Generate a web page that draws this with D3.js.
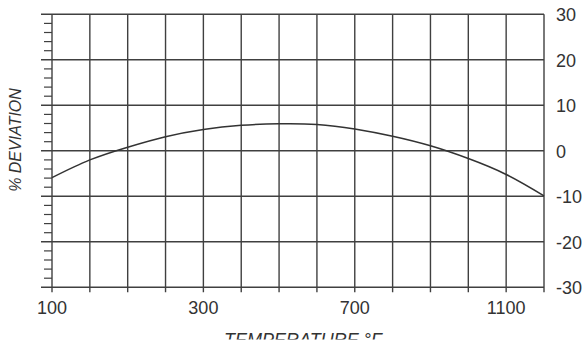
<!DOCTYPE html>
<html>
<head>
<meta charset="utf-8">
<script src="https://cdn.jsdelivr.net/npm/d3@7"></script>
<style>
  body { margin: 0; background: #fff; }
  svg { display: block; }
  text { font-family: Arial, "Liberation Sans", sans-serif; fill: #333; }
</style>
</head>
<body>
<div id="chart"></div>
<script>
// grid columns (deg F) - the axis is 50 deg/column below 300, 100 deg/column above
var gridTemps = [100, 150, 200, 250, 300, 400, 500, 600, 700, 800, 900, 1000, 1100, 1200];
var tempLabels = [100, 300, 700, 1100];
var devTicks = [-30, -20, -10, 0, 10, 20, 30];
var minorTicks = d3.range(-30, 30, 2).filter(function(v) { return v % 10 !== 0; });

// curve
var temps =     [100, 150, 200, 250, 300, 400, 500, 600, 700, 800, 900, 1000, 1100, 1200];
var deviation = [-5.9, -2.0, 0.8, 3.1, 4.7, 5.6, 5.95, 5.8, 4.8, 3.2, 1.1, -1.7, -5.2, -9.9];

var width = 588,
    height = 350,
    plotLeft = 52,
    plotRight = 544,
    plotTop = 14.3,
    plotBottom = 287.3,
    colW = (plotRight - plotLeft) / 13;

var svg = d3.select("#chart").append("svg")
    .attr("width", width)
    .attr("height", height);

var x = d3.scaleLinear()
    .domain([100, 300, 1200])
    .range([plotLeft, plotLeft + 4 * colW, plotRight]);

var y = d3.scaleLinear()
    .domain([-30, 30])
    .range([plotBottom, plotTop]);

var lineColor = "#404040";

// vertical grid + ticks below
svg.append("g").selectAll("line")
    .data(gridTemps)
    .enter().append("line")
    .attr("x1", function(d) { return x(d); })
    .attr("x2", function(d) { return x(d); })
    .attr("y1", plotTop)
    .attr("y2", plotBottom + 5)
    .attr("stroke", lineColor)
    .attr("stroke-width", 1.4);

// horizontal grid, sticking out on the left
svg.append("g").selectAll("line")
    .data(devTicks)
    .enter().append("line")
    .attr("x1", plotLeft - 11)
    .attr("x2", plotRight)
    .attr("y1", function(d) { return y(d); })
    .attr("y2", function(d) { return y(d); })
    .attr("stroke", lineColor)
    .attr("stroke-width", 1.4);

// minor ticks on the left edge
svg.append("g").selectAll("line")
    .data(minorTicks)
    .enter().append("line")
    .attr("x1", plotLeft - 8)
    .attr("x2", plotLeft)
    .attr("y1", function(d) { return y(d); })
    .attr("y2", function(d) { return y(d); })
    .attr("stroke", lineColor)
    .attr("stroke-width", 1.2);

// curve
var line = d3.line()
    .x(function(d, i) { return x(temps[i]); })
    .y(function(d) { return y(d); })
    .curve(d3.curveNatural);

svg.append("path")
    .datum(deviation)
    .attr("d", line)
    .attr("fill", "none")
    .attr("stroke", "#333")
    .attr("stroke-width", 1.5);

// right labels
svg.append("g").selectAll("text")
    .data(devTicks)
    .enter().append("text")
    .attr("x", plotRight + 12)
    .attr("y", function(d) { return y(d) + 7; })
    .style("font-size", "18px")
    .text(function(d) { return d; });

// bottom labels
svg.append("g").selectAll("text")
    .data(tempLabels)
    .enter().append("text")
    .attr("x", function(d) { return x(d); })
    .attr("y", 314)
    .attr("text-anchor", "middle")
    .style("font-size", "18px")
    .text(function(d) { return d; });

// axis titles
svg.append("text")
    .attr("transform", "translate(21,140) rotate(-90)")
    .attr("text-anchor", "middle")
    .style("font-size", "16px")
    .style("font-style", "italic")
    .text("% DEVIATION");

svg.append("clipPath").attr("id", "cut")
    .append("rect").attr("x", 0).attr("y", 0).attr("width", width).attr("height", 339.5);

svg.append("text")
    .attr("clip-path", "url(#cut)")
    .attr("x", 303)
    .attr("y", 346)
    .attr("text-anchor", "middle")
    .style("font-size", "18px")
    .style("font-style", "italic")
    .text("TEMPERATURE °F");
</script>
</body>
</html>
